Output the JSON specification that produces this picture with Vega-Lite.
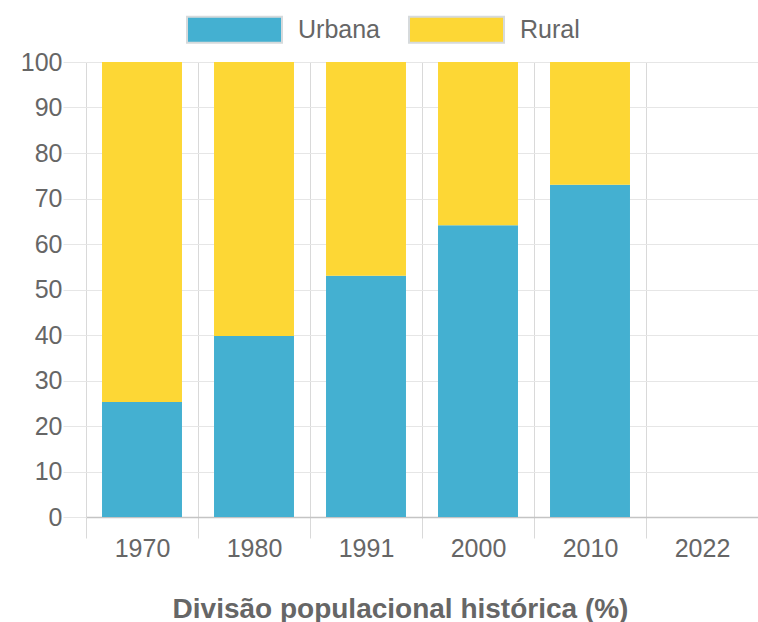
{
  "$schema": "https://vega.github.io/schema/vega-lite/v6.json",
  "width": 672,
  "height": 455,
  "autosize": {"type": "none"},
  "padding": {"left": 86, "top": 62, "right": 0, "bottom": 105},
  "background": "white",
  "config": {
    "font": "Liberation Sans",
    "view": {"stroke": null}
  },
  "data": {
    "values": [
      {"ano": "1970", "tipo": "Urbana", "valor": 25.3},
      {"ano": "1970", "tipo": "Rural", "valor": 74.7},
      {"ano": "1980", "tipo": "Urbana", "valor": 39.8},
      {"ano": "1980", "tipo": "Rural", "valor": 60.2},
      {"ano": "1991", "tipo": "Urbana", "valor": 53.0},
      {"ano": "1991", "tipo": "Rural", "valor": 47.0},
      {"ano": "2000", "tipo": "Urbana", "valor": 64.1},
      {"ano": "2000", "tipo": "Rural", "valor": 35.9},
      {"ano": "2010", "tipo": "Urbana", "valor": 73.0},
      {"ano": "2010", "tipo": "Rural", "valor": 27.0}
    ]
  },
  "mark": {"type": "bar", "width": {"band": 0.714}},
  "encoding": {
    "x": {
      "field": "ano",
      "type": "nominal",
      "scale": {"domain": ["1970", "1980", "1991", "2000", "2010", "2022"], "paddingInner": 0, "paddingOuter": 0},
      "axis": {
        "labelAngle": 0,
        "tickBand": "extent",
        "grid": true,
        "gridColor": "#d9d9d9",
        "tickColor": "#d9d9d9",
        "tickSize": 21,
        "domainColor": "#c4c4c4",
        "domainWidth": 1.5,
        "labelFontSize": 25,
        "labelColor": "#666666",
        "labelPadding": -2,
        "title": "Divisão populacional histórica (%)",
        "titleFontSize": 28,
        "titleFontWeight": "bold",
        "titleColor": "#666666",
        "titleX": 314,
        "titleY": 100,
        "titleBaseline": "alphabetic",
        "titleAlign": "center"
      }
    },
    "y": {
      "field": "valor",
      "type": "quantitative",
      "stack": "zero",
      "scale": {"domain": [0, 100], "nice": false},
      "axis": {
        "values": [0, 10, 20, 30, 40, 50, 60, 70, 80, 90, 100],
        "domain": false,
        "grid": true,
        "gridColor": "#e6e6e6",
        "tickColor": "#e6e6e6",
        "tickSize": 23,
        "labelFontSize": 25,
        "labelColor": "#666666",
        "labelPadding": 1,
        "title": null
      }
    },
    "color": {
      "field": "tipo",
      "type": "nominal",
      "sort": ["Urbana", "Rural"],
      "scale": {"domain": ["Urbana", "Rural"], "range": ["#44b0d1", "#fdd735"]},
      "legend": {
        "title": null,
        "orient": "none",
        "direction": "horizontal",
        "legendX": 100,
        "legendY": -81,
        "padding": 0,
        "symbolType": "M-1,-0.274H1V0.274H-1Z",
        "symbolSize": 9025,
        "symbolStrokeColor": "#d6dadc",
        "symbolStrokeWidth": 2,
        "symbolOpacity": 1,
        "labelFontSize": 25,
        "labelColor": "#666666",
        "labelOffset": 15,
        "columnPadding": 25
      }
    },
    "order": {"field": "tipo", "sort": "descending"}
  }
}
